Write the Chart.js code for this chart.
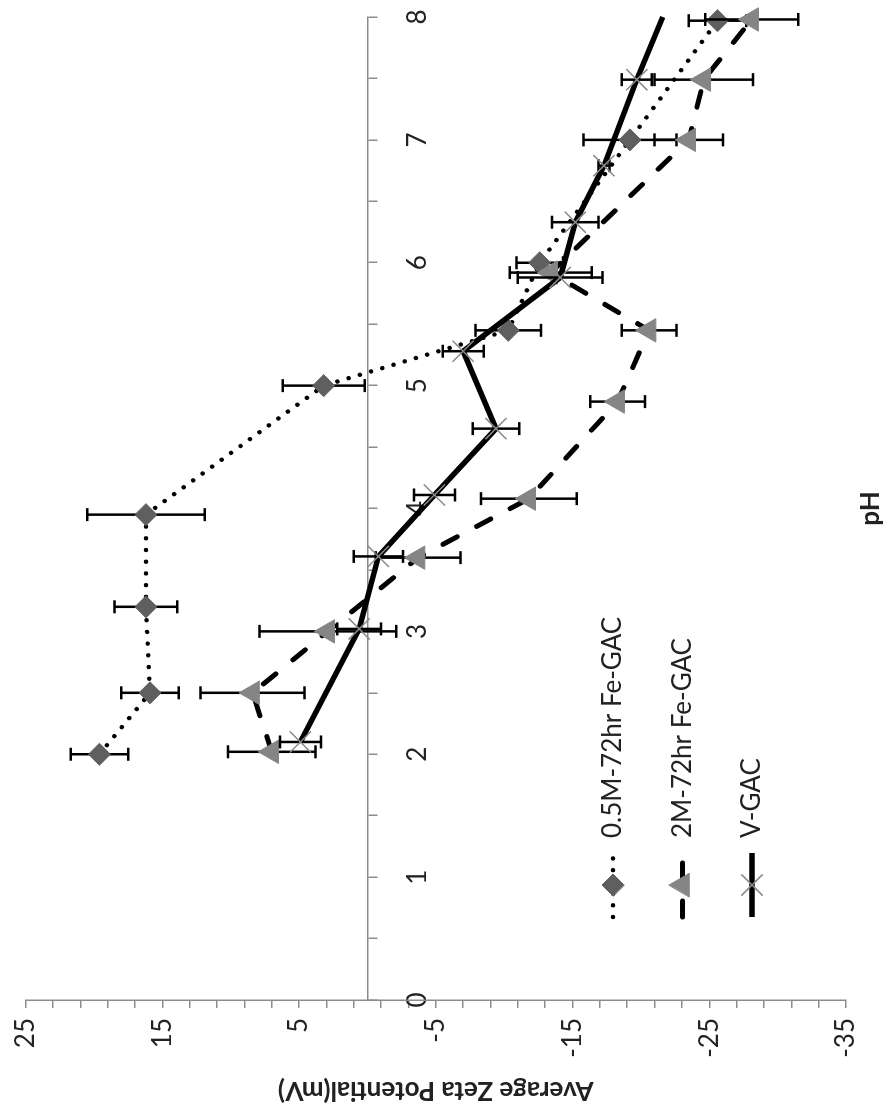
<!DOCTYPE html>
<html>
<head>
<meta charset="utf-8">
<script src="https://cdn.jsdelivr.net/npm/chart.js@4.4.1/dist/chart.umd.min.js"></script>
<style>
  html, body { margin: 0; padding: 0; background: #fff; }
  #pagina { position: relative; width: 890px; height: 1120px; overflow: hidden; background: #fff; }
  /* el grafico original esta girado 90 grados a la izquierda */
  #giro { position: absolute; left: 0; top: 0; width: 1120px; height: 890px;
          transform-origin: 0 0; transform: translate(0, 1120px) rotate(-90deg); }
</style>
</head>
<body>
<div id="pagina"><div id="giro"><canvas id="grafico" width="1120" height="890"></canvas></div></div>
<script>
// Datos (pH, potencial zeta en mV, barra de error +/-)
const phFe05 = [2.0, 2.5, 3.2, 3.95, 5.0, 5.45, 6.0, 7.0, 7.97];
const zetaFe05 = [19.6, 15.9, 16.2, 16.2, 3.2, -10.3, -12.6, -19.2, -25.6];
const errFe05 = [2.1, 2.1, 2.3, 4.3, 3.0, 2.4, 1.7, 3.4, 2.1];

const phFe2 = [2.02, 2.5, 3.0, 3.6, 4.08, 4.87, 5.45, 5.92, 7.0, 7.49, 7.98];
const zetaFe2 = [7.0, 8.4, 2.9, -3.7, -11.8, -18.3, -20.6, -13.4, -23.5, -24.6, -28.1];
const errFe2 = [3.2, 3.8, 5.0, 3.1, 3.5, 2.0, 2.0, 3.0, 2.5, 3.6, 3.4];

const phVgac = [2.1, 3.02, 3.61, 4.11, 4.65, 5.28, 5.88, 6.33, 6.79, 7.49, 8.0];
const zetaVgac = [4.9, 0.6, -0.8, -4.9, -9.4, -7.0, -14.1, -15.2, -17.3, -19.7, -21.6];
const errVgac = [1.5, 1.6, 1.8, 1.5, 1.7, 1.5, 3.1, 1.7, 0.4, 1.1, 0];

const etiquetas = ["0.5M-72hr Fe-GAC", "2M-72hr Fe-GAC", "V-GAC"];
const tituloX = "pH";
const tituloY = "Average Zeta Potential(mV)";

const fuente = "Lato";
const colorEjes = "#8c8c8c";
const colorTexto = "#222";

function puntos(xs, ys) {
    return xs.map((v, i) => ({ x: v, y: ys[i] }));
}

// Barras de error verticales (en el grafico sin girar)
const barrasError = {
    id: "barrasError",
    beforeDatasetDraw(chart, args) {
        const ds = chart.data.datasets[args.index];
        if (!ds.errores) return;
        const ctx = chart.ctx;
        const x = chart.scales.x;
        const y = chart.scales.y;
        ctx.save();
        ctx.strokeStyle = "#000";
        ctx.lineWidth = 2.5;
        ds.errores.forEach((e, i) => {
            if (!e) return;
            const p = ds.data[i];
            const px = x.getPixelForValue(p.x);
            const y1 = y.getPixelForValue(p.y - e);
            const y2 = y.getPixelForValue(p.y + e);
            ctx.beginPath();
            ctx.moveTo(px, y1);
            ctx.lineTo(px, y2);
            ctx.moveTo(px - 6.5, y1);
            ctx.lineTo(px + 6.5, y1);
            ctx.moveTo(px - 6.5, y2);
            ctx.lineTo(px + 6.5, y2);
            ctx.stroke();
        });
        ctx.restore();
    }
};

// Leyenda dentro del area del grafico
const leyenda = {
    id: "leyenda",
    afterDraw(chart) {
        const ctx = chart.ctx;
        chart.data.datasets.forEach((ds, i) => {
            const yy = 613 + i * 69.5;
            ctx.save();
            ctx.strokeStyle = ds.borderColor;
            ctx.lineWidth = ds.borderWidth;
            ctx.lineCap = ds.borderCapStyle || "butt";
            ctx.setLineDash(ds.borderDash || []);
            ctx.beginPath();
            ctx.moveTo(203, yy);
            ctx.lineTo(267, yy);
            ctx.stroke();
            ctx.setLineDash([]);
            ctx.fillStyle = ds.pointBackgroundColor;
            ctx.strokeStyle = ds.pointBorderColor;
            ctx.lineWidth = ds.pointBorderWidth;
            Chart.helpers.drawPoint(ctx, {
                pointStyle: ds.pointStyle,
                radius: ds.radioLeyenda,
                rotation: 0,
                borderWidth: ds.pointBorderWidth
            }, 235, yy);
            ctx.fillStyle = colorTexto;
            ctx.font = "26px " + fuente;
            ctx.textBaseline = "middle";
            ctx.textAlign = "left";
            ctx.fillText(ds.label, 282, yy);
            ctx.restore();
        });
    }
};

const config = {
    type: "scatter",
    data: {
        datasets: [
            {
                label: etiquetas[0],
                data: puntos(phFe05, zetaFe05),
                errores: errFe05,
                showLine: true,
                borderColor: "#000",
                borderWidth: 4.5,
                borderDash: [0.01, 11.7],
                borderCapStyle: "round",
                pointStyle: "rectRot",
                pointRadius: 11,
                radioLeyenda: 11,
                pointBackgroundColor: "#5f5f5f",
                pointBorderColor: "#5f5f5f",
                pointBorderWidth: 1,
                clip: false,
                order: 3
            },
            {
                label: etiquetas[1],
                data: puntos(phFe2, zetaFe2),
                errores: errFe2,
                showLine: true,
                borderColor: "#000",
                borderWidth: 5,
                borderDash: [16, 22],
                borderCapStyle: "round",
                pointStyle: "triangle",
                pointRadius: 13.5,
                radioLeyenda: 13.5,
                pointBackgroundColor: "#858585",
                pointBorderColor: "#858585",
                pointBorderWidth: 1,
                clip: false,
                order: 2
            },
            {
                label: etiquetas[2],
                data: puntos(phVgac, zetaVgac),
                errores: errVgac,
                showLine: true,
                borderColor: "#000",
                borderWidth: 5.5,
                pointStyle: "crossRot",
                // el ultimo punto no muestra marcador en el original
                pointRadius: (c) => (c.dataIndex === phVgac.length - 1 ? 0 : 15),
                radioLeyenda: 15,
                pointBackgroundColor: "#8a8a8a",
                pointBorderColor: "#8a8a8a",
                pointBorderWidth: 1.5,
                clip: false,
                order: 1
            }
        ]
    },
    options: {
        responsive: false,
        animation: false,
        events: [],
        layout: { padding: { left: 0, right: 17, top: 23, bottom: 0 } },
        plugins: { legend: { display: false }, tooltip: { enabled: false } },
        scales: {
            x: {
                type: "linear",
                position: { y: 0 },
                min: 0,
                max: 8,
                grid: { drawOnChartArea: false, tickLength: 9, color: colorEjes, lineWidth: 1.5 },
                border: { color: colorEjes, width: 1.5 },
                ticks: {
                    stepSize: 0.5,
                    autoSkip: false,
                    maxRotation: 0,
                    padding: 26,
                    color: colorTexto,
                    font: { family: fuente, size: 26 },
                    callback: (v) => (Number.isInteger(v) ? String(v) : "")
                },
                afterFit: (s) => { s.paddingLeft = 0; s.paddingRight = 0; }
            },
            x2: {
                type: "linear",
                position: "bottom",
                min: 0,
                max: 8,
                grid: { display: false, drawTicks: false },
                border: { display: false },
                ticks: { display: false },
                title: {
                    display: true,
                    text: tituloX,
                    color: colorTexto,
                    font: { family: fuente, size: 26, weight: "bold" },
                    padding: { top: 9, bottom: 4 }
                },
                afterFit: (s) => { s.height = 44; s.paddingLeft = 0; s.paddingRight = 0; }
            },
            y: {
                type: "linear",
                position: "left",
                min: -35,
                max: 25,
                grid: { drawOnChartArea: false, tickLength: 8, color: colorEjes, lineWidth: 1.5 },
                border: { color: colorEjes, width: 1.5 },
                ticks: {
                    stepSize: 2,
                    autoSkip: false,
                    padding: 10,
                    color: colorTexto,
                    font: { family: fuente, size: 26 },
                    callback: (v) => ((25 - v) % 10 === 0 ? String(v) : "")
                },
                title: {
                    display: true,
                    text: tituloY,
                    color: colorTexto,
                    font: { family: fuente, size: 26, weight: "bold" },
                    padding: { top: 14, bottom: 0 }
                },
                afterFit: (s) => { s.width = 120; }
            }
        }
    },
    plugins: [barrasError, leyenda]
};

new Chart(document.getElementById("grafico").getContext("2d"), config);
</script>
</body>
</html>
